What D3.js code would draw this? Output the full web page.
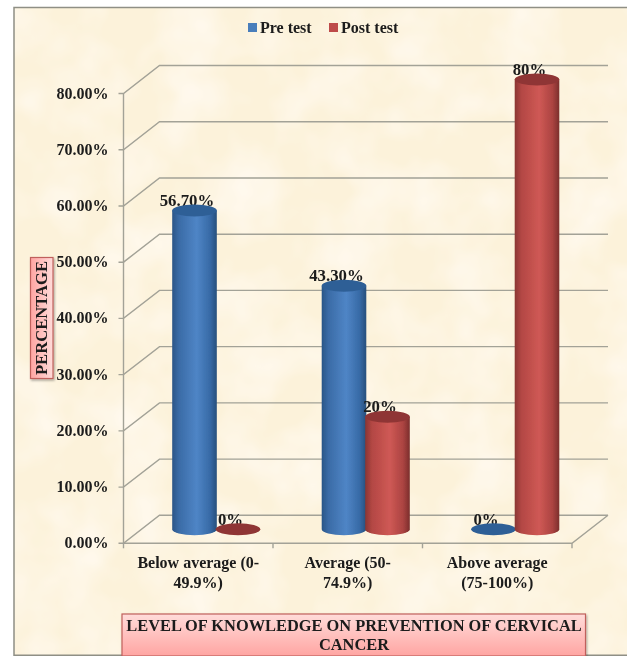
<!DOCTYPE html>
<html><head><meta charset="utf-8">
<script src="https://cdn.jsdelivr.net/npm/d3@7/dist/d3.min.js"></script>
<style>html,body{margin:0;padding:0;background:#fff}svg{display:block}text{font-family:"Liberation Serif",serif;font-weight:bold;fill:#1a1a1a}</style>
</head><body><svg id="c" width="627" height="656"></svg>
<script>
const categories = [["Below average (0-","49.9%)"],["Average (50-","74.9%)"],["Above average","(75-100%)"]];
const seriesNames = ["Pre test","Post test"];
const preTest = [56.7,43.3,0];
const postTest = [0,20,80];
const preLabels = ["56.70%","43.30%","0%"];
const postLabels = ["0%","20%","80%"];
const yTicks = [0,10,20,30,40,50,60,70,80];
const xAxisTitle = ["LEVEL OF KNOWLEDGE ON PREVENTION OF CERVICAL","CANCER"];
const yAxisTitle = "PERCENTAGE";

const svg = d3.select("#c"), W=627, H=656;
const defs = svg.append("defs");
const f = defs.append("filter").attr("id","paper").attr("x",0).attr("y",0).attr("width","100%").attr("height","100%").attr("color-interpolation-filters","sRGB");
f.append("feTurbulence").attr("type","fractalNoise").attr("baseFrequency",0.018).attr("numOctaves",3).attr("seed",4).attr("result","n");
f.append("feColorMatrix").attr("in","n").attr("type","matrix").attr("values","0 0 0 0 1  0 0 0 0 0.975  0 0 0 0 0.93  2 0 0 0 -0.72");
const soft = defs.append("filter").attr("id","soft").attr("filterUnits","userSpaceOnUse").attr("x",0).attr("y",0).attr("width",W).attr("height",H);
soft.append("feGaussianBlur").attr("stdDeviation",0.45);
const shadow = defs.append("filter").attr("id","shadow").attr("x","-20%").attr("y","-20%").attr("width","140%").attr("height","140%");
shadow.append("feDropShadow").attr("dx",1).attr("dy",1.5).attr("stdDeviation",1).attr("flood-color","#000").attr("flood-opacity",.35);
const grad=(id,stops)=>{const g=defs.append("linearGradient").attr("id",id);stops.forEach(s=>g.append("stop").attr("offset",s[0]).attr("stop-color",s[1]));};
grad("pre",[[0,"#2a5587"],[.15,"#3a6ba6"],[.55,"#4f85c6"],[.85,"#376aa6"],[1,"#274f7c"]]);
grad("post",[[0,"#8a3533"],[.15,"#b34744"],[.55,"#cf5955"],[.85,"#ab4341"],[1,"#7b2e2c"]]);
const pink=defs.append("linearGradient").attr("id","pink").attr("x2",0).attr("y2",1);
pink.append("stop").attr("offset",0).attr("stop-color","#ffdcda");pink.append("stop").attr("offset",1).attr("stop-color","#ffa5a2");
const pinkH=defs.append("linearGradient").attr("id","pinkH");
pinkH.append("stop").attr("offset",0).attr("stop-color","#ffa5a2");pinkH.append("stop").attr("offset",1).attr("stop-color","#ffdcda");

svg.append("rect").attr("x",14).attr("y",7).attr("width",W-14).attr("height",H-7).attr("fill","#fcf2da");
svg.append("rect").attr("x",14).attr("y",7).attr("width",W-14).attr("height",H-7).attr("filter","url(#paper)");
const root = svg.append("g").attr("filter","url(#soft)");
root.append("path").attr("d",`M${W},${H-0.7}H14V7.5H${W}`).attr("fill","none").attr("stroke","#8f8f85").attr("stroke-width",1.5);

const x0=123.5,x1=572,depthX=36,depthY=28,baseY=543.3,topY=93.5;
const y = d3.scaleLinear().domain([0,80]).range([baseY,topY]);
const xBand = d3.scaleBand().domain(d3.range(categories.length)).range([x0,x1]);
const xSub = d3.scaleBand().domain(d3.range(2)).range([-43.5,43.5]);
const wall = "#a3a297";
const g = root.append("g").attr("fill","none").attr("stroke",wall).attr("stroke-width",1.4);
yTicks.forEach(t=>{
  g.append("path").attr("d",`M${x0-5},${y(t)}H${x0}L${x0+depthX},${y(t)-depthY}H${x1+depthX}`);
});
g.append("path").attr("d",`M${x0},${y(0)}V${y(80)}`);
g.append("path").attr("d",`M${x0},${y(0)}H${x1}L${x1+depthX},${y(0)-depthY}`);
xBand.domain().concat([3]).forEach(i=>{const px=x0+i*xBand.step();g.append("path").attr("d",`M${px},${y(0)}v5`);});

root.append("g").selectAll("text").data(yTicks).join("text")
  .attr("x",108.5).attr("y",d=>y(d)+5).attr("text-anchor","end").attr("font-size",16)
  .text(d=>d3.format(".2f")(d)+"%");

categories.forEach((c,i)=>{
  const cx=xBand(i)+xBand.bandwidth()/2;
  c.forEach((l,j)=>root.append("text").attr("x",cx).attr("y",568+j*19.5).attr("text-anchor","middle").attr("font-size",16).text(l));
});

const rx=22.3, ry=6, cyOff=-14, dx=18;
[[preTest,preLabels,"pre","#2f5f96"],[postTest,postLabels,"post","#8f3634"]].forEach((s,si)=>{
  s[0].forEach((v,i)=>{
    const cx=xBand(i)+xBand.bandwidth()/2+dx+xSub(si)+xSub.bandwidth()/2;
    const by=y(0)+cyOff, ty=y(v)+cyOff;
    root.append("text").attr("x",cx-7.5).attr("y",ty-4.5).attr("text-anchor","middle").attr("font-size",16.8).text(s[1][i]);
    if(v>0){
      root.append("path").attr("d",`M${cx-rx},${ty}V${by}A${rx},${ry} 0 0 0 ${cx+rx},${by}V${ty}Z`).attr("fill",`url(#${s[2]})`);
    }
    root.append("ellipse").attr("cx",cx).attr("cy",ty).attr("rx",rx).attr("ry",ry).attr("fill",s[3]);
  });
});

const leg=[[248,"#4a7ebb"],[329,"#be4b48"]];
seriesNames.forEach((n,i)=>{
  root.append("rect").attr("x",leg[i][0]).attr("y",23).attr("width",9).attr("height",9).attr("fill",leg[i][1]);
  root.append("text").attr("x",leg[i][0]+12).attr("y",33).attr("font-size",16).text(n);
});

root.append("rect").attr("x",122).attr("y",614).attr("width",463.5).attr("height",42).attr("fill","url(#pink)").attr("stroke","#c0605c").attr("stroke-width",1.2).attr("filter","url(#shadow)");
xAxisTitle.forEach((l,j)=>root.append("text").attr("x",354).attr("y",631+j*19).attr("text-anchor","middle").attr("font-size",16.4).text(l));
root.append("rect").attr("x",30.5).attr("y",257.5).attr("width",22.5).attr("height",121).attr("fill","url(#pinkH)").attr("stroke","#c0605c").attr("stroke-width",1.2).attr("filter","url(#shadow)");
root.append("text").attr("transform","translate(47,318) rotate(-90)").attr("text-anchor","middle").attr("font-size",16.6).text(yAxisTitle);
</script></body></html>
